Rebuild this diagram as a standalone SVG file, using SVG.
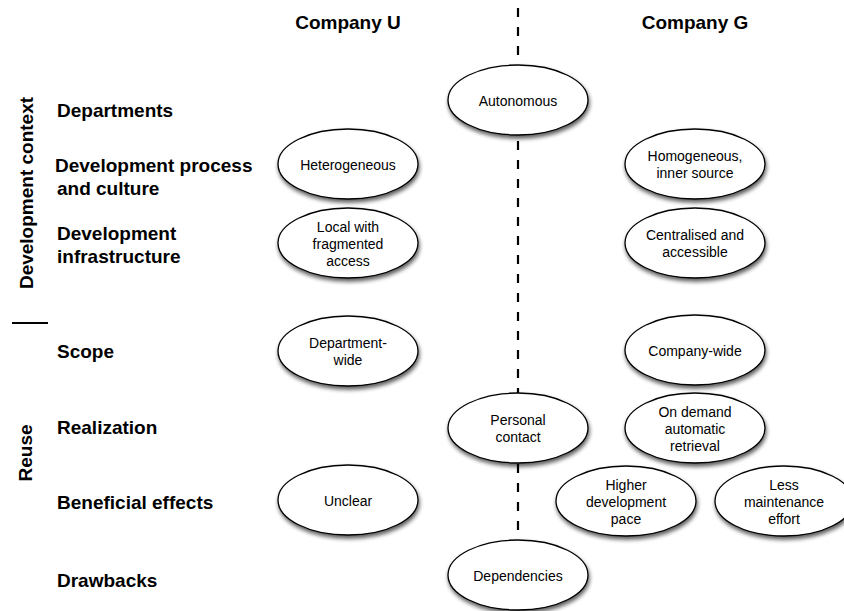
<svg xmlns="http://www.w3.org/2000/svg" width="844" height="611" viewBox="0 0 844 611">
<defs>
<filter id="sh" x="-20%" y="-20%" width="140%" height="150%">
<feGaussianBlur in="SourceAlpha" stdDeviation="2"/>
<feOffset dx="1" dy="3" result="b"/>
<feComponentTransfer><feFuncA type="linear" slope="0.65"/></feComponentTransfer>
<feMerge><feMergeNode/><feMergeNode in="SourceGraphic"/></feMerge>
</filter>
</defs>
<style>
.lbl{font-family:"Liberation Sans",Arial,sans-serif;font-weight:bold;font-size:19px;fill:#000}
.nt{font-family:"Liberation Sans",Arial,sans-serif;font-size:14px;fill:#000;text-anchor:middle}
.el{fill:#fff;stroke:#000;stroke-width:1.3;filter:url(#sh)}
.dash{stroke:#000;stroke-width:2.2;stroke-dasharray:9 10;fill:none}
</style>
<rect width="844" height="611" fill="#fff"/>
<g id="connectors">
<line class="dash" x1="518" y1="8" x2="518" y2="537"/>
<line x1="12" y1="323" x2="48" y2="323" stroke="#000" stroke-width="2"/>
</g>
<g id="headers">
<text class="lbl" x="348" y="29" text-anchor="middle">Company U</text>
<text class="lbl" x="695" y="29" text-anchor="middle">Company G</text>
<text class="lbl" transform="translate(33,193) rotate(-90)" text-anchor="middle">Development context</text>
<text class="lbl" transform="translate(32,453) rotate(-90)" text-anchor="middle">Reuse</text>
</g>
<g id="rows">
<text class="lbl" x="57" y="117">Departments</text>
<text class="lbl" x="55" y="172">Development process</text>
<text class="lbl" x="57" y="195">and culture</text>
<text class="lbl" x="57" y="240">Development</text>
<text class="lbl" x="57" y="263">infrastructure</text>
<text class="lbl" x="57" y="358">Scope</text>
<text class="lbl" x="57" y="434">Realization</text>
<text class="lbl" x="57" y="509">Beneficial effects</text>
<text class="lbl" x="57" y="587">Drawbacks</text>
</g>
<g id="n-autonomous"><ellipse class="el" cx="518" cy="100" rx="70" ry="35"/><text class="nt" x="518" y="105.5">Autonomous</text></g>
<g id="n-heterogeneous"><ellipse class="el" cx="348" cy="164" rx="70" ry="35"/><text class="nt" x="348" y="169.5">Heterogeneous</text></g>
<g id="n-homogeneous"><ellipse class="el" cx="695" cy="164" rx="70" ry="35"/><text class="nt" x="695" y="161">Homogeneous,</text><text class="nt" x="695" y="178">inner source</text></g>
<g id="n-local"><ellipse class="el" cx="348" cy="243" rx="70" ry="35"/><text class="nt" x="348" y="231.5">Local with</text><text class="nt" x="348" y="248.5">fragmented</text><text class="nt" x="348" y="265.5">access</text></g>
<g id="n-centralised"><ellipse class="el" cx="695" cy="243" rx="70" ry="35"/><text class="nt" x="695" y="240">Centralised and</text><text class="nt" x="695" y="257">accessible</text></g>
<g id="n-deptwide"><ellipse class="el" cx="348" cy="351" rx="70" ry="35"/><text class="nt" x="348" y="348">Department-</text><text class="nt" x="348" y="365">wide</text></g>
<g id="n-companywide"><ellipse class="el" cx="695" cy="350" rx="70" ry="35"/><text class="nt" x="695" y="355.5">Company-wide</text></g>
<g id="n-personal"><ellipse class="el" cx="518" cy="428" rx="70" ry="35"/><text class="nt" x="518" y="425">Personal</text><text class="nt" x="518" y="442">contact</text></g>
<g id="n-ondemand"><ellipse class="el" cx="695" cy="428" rx="70" ry="35"/><text class="nt" x="695" y="416.5">On demand</text><text class="nt" x="695" y="433.5">automatic</text><text class="nt" x="695" y="450.5">retrieval</text></g>
<g id="n-unclear"><ellipse class="el" cx="348" cy="500" rx="70" ry="35"/><text class="nt" x="348" y="505.5">Unclear</text></g>
<g id="n-higher"><ellipse class="el" cx="626" cy="501" rx="70" ry="35"/><text class="nt" x="626" y="489.5">Higher</text><text class="nt" x="626" y="506.5">development</text><text class="nt" x="626" y="523.5">pace</text></g>
<g id="n-less"><ellipse class="el" cx="784" cy="501" rx="69" ry="35"/><text class="nt" x="784" y="489.5">Less</text><text class="nt" x="784" y="506.5">maintenance</text><text class="nt" x="784" y="523.5">effort</text></g>
<g id="n-dependencies"><ellipse class="el" cx="518" cy="575" rx="70" ry="35"/><text class="nt" x="518" y="580.5">Dependencies</text></g>
</svg>
